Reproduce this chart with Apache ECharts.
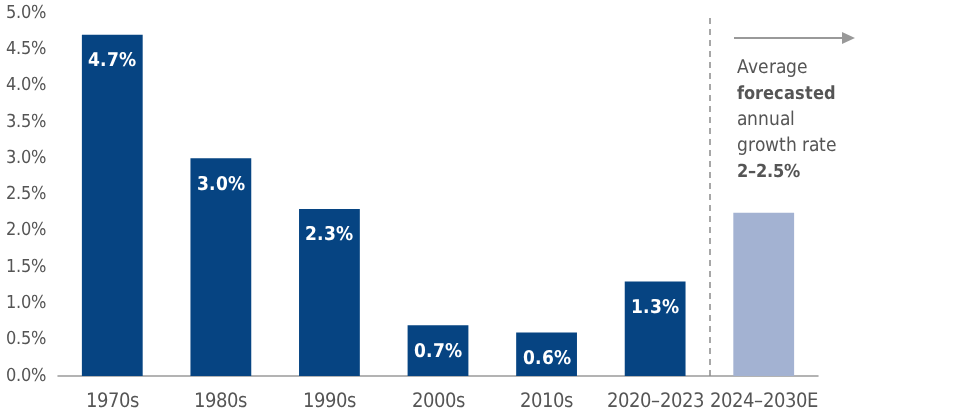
<!DOCTYPE html>
<html>
<head>
<meta charset="utf-8">
<script src="https://cdn.jsdelivr.net/npm/echarts@6/dist/echarts.min.js"></script>
<style>
  @font-face {
    font-family: 'CondSans';
    font-weight: normal;
    src: local('Liberation Sans Narrow'), local('LiberationSansNarrow-Regular'),
         local('DejaVu Sans Condensed'), local('DejaVuSansCondensed');
  }
  @font-face {
    font-family: 'CondSans';
    font-weight: bold;
    src: local('Liberation Sans Narrow Bold'), local('LiberationSansNarrow-Bold'),
         local('DejaVu Sans Condensed Bold'), local('DejaVuSansCondensed-Bold');
  }
  html, body { margin: 0; padding: 0; background: #fff; }
  #chart { width: 966px; height: 418px; }
</style>
</head>
<body>
<div id="chart"></div>
<script>
const FONT = 'CondSans, "Liberation Sans", sans-serif'

// data
const periods = ['1970s', '1980s', '1990s', '2000s', '2010s', '2020–2023', '2024–2030E']
const growth = [4.7, 3.0, 2.3, 0.7, 0.6, 1.3, 2.25]
const forecastIndex = 6
const yTicks = [0, 0.5, 1, 1.5, 2, 2.5, 3, 3.5, 4, 4.5, 5]

function draw() {
  const chart = echarts.init(document.getElementById('chart'))
  chart.setOption({
    animation: false,
    grid: { left: 58, right: 148, top: 13, bottom: 42 },
    xAxis: [
      {
        type: 'category',
        data: periods,
        axisTick: { show: false },
        axisLine: { lineStyle: { color: '#9a9a9a', width: 1.5 } },
        axisLabel: { color: '#555', fontSize: 20, fontFamily: FONT, margin: 16, interval: 0 },
      },
      {
        // hidden helper axis so the divider sits on a category boundary
        type: 'value',
        min: 0,
        max: periods.length,
        axisLine: { show: false },
        axisTick: { show: false },
        axisLabel: { show: false },
        splitLine: { show: false },
      },
    ],
    yAxis: {
      type: 'value',
      min: yTicks[0],
      max: yTicks[yTicks.length - 1],
      interval: 0.5,
      axisLine: { show: false },
      axisTick: { show: false },
      splitLine: { show: false },
      axisLabel: {
        color: '#555',
        fontSize: 18,
        fontFamily: FONT,
        margin: 12,
        formatter: (v) => v.toFixed(1) + '%',
      },
    },
    series: [
      {
        type: 'bar',
        barWidth: '56%',
        data: growth.map((v, i) => ({
          value: v,
          itemStyle: { color: i === forecastIndex ? '#a3b2d2' : '#064482' },
          label: { show: i !== forecastIndex },
        })),
        label: {
          position: 'insideTop',
          distance: 17,
          color: '#fff',
          fontWeight: 'bold',
          fontSize: 19,
          fontFamily: FONT,
          formatter: (p) => p.value.toFixed(1) + '%',
        },
      },
      {
        type: 'line',
        xAxisIndex: 1,
        data: [[forecastIndex, 0]],
        showSymbol: false,
        lineStyle: { opacity: 0 },
        silent: true,
        markLine: {
          silent: true,
          symbol: 'none',
          label: { show: false },
          lineStyle: { color: '#8a8a8a', type: [6, 5], width: 1.5 },
          data: [{ xAxis: forecastIndex }],
        },
      },
    ],
    graphic: [
      {
        type: 'line',
        shape: { x1: 734, y1: 38, x2: 844, y2: 38 },
        style: { stroke: '#999', lineWidth: 2 },
      },
      {
        type: 'polygon',
        shape: { points: [[842, 32], [855, 38], [842, 44]] },
        style: { fill: '#999' },
      },
      {
        type: 'text',
        left: 737,
        top: 55,
        style: {
          text: 'Average\n{b|forecasted}\nannual\ngrowth rate\n{b|2–2.5%}',
          fill: '#555',
          font: '19px ' + FONT,
          lineHeight: 26,
          rich: {
            b: { fontWeight: 'bold', fontSize: 18, fontFamily: FONT, fill: '#555', lineHeight: 26 },
          },
        },
      },
    ],
  })
}

Promise.all([
  document.fonts.load('20px CondSans'),
  document.fonts.load('bold 20px CondSans'),
]).then(draw, draw)
</script>
</body>
</html>
